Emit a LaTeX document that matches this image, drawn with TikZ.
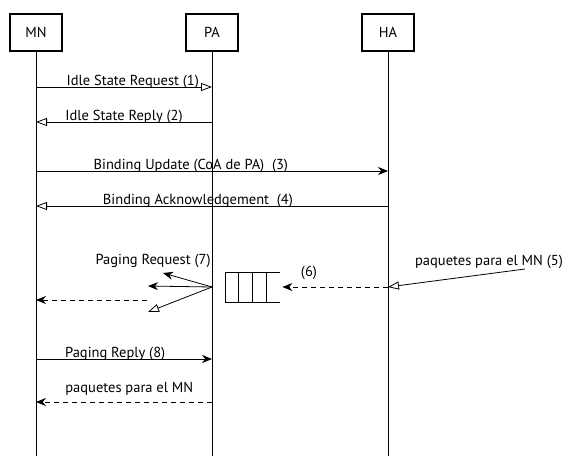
\documentclass[tikz,border=0pt]{standalone}
\usepackage{fontspec}
\setmainfont{PT Sans}
\usetikzlibrary{arrows.meta}

\begin{document}
\begin{tikzpicture}[x=1pt,y=-1pt,line width=0.8pt,font=\fontsize{14.5}{17}\selectfont]
  \tikzstyle{entity}=[draw,line width=1.1pt,minimum width=52pt,minimum height=37pt,inner sep=0pt]
  \tikzstyle{msg}=[-{Stealth[length=10pt,width=8pt]}]
  \tikzstyle{openmsg}=[-{Triangle[open,length=11pt,width=8pt]}]
  \tikzstyle{fwdmsg}=[msg,dash pattern=on 5pt off 4pt]
  \tikzstyle{lbl}=[anchor=base,inner sep=0pt,yshift=2pt]
  \useasboundingbox (0,0) rectangle (570,456);
  % entities and lifelines
  \foreach \name/\x in {MN/36,PA/212,HA/388}{
    \node[entity] (\name) at (\x,32.5) {\name};
    \coordinate (\name-end) at (\x,456);
    \draw (\name) -- (\name-end);
  }
  \foreach \name/\x in {MN/36,PA/212,HA/388}
    \foreach \i/\y in {1/87,2/122,3/171,4/206,6/287,7/300,8/359,9/402}
      \coordinate (\name-\i) at (\x,\y);
  % registration
  \draw[openmsg] (MN-1) -- node[lbl,pos=0.55] {Idle State Request (1)} (PA-1);
  \draw[openmsg] (PA-2) -- node[lbl,pos=0.5] {Idle State Reply (2)} (MN-2);
  \draw[msg] (MN-3) -- node[lbl,pos=0.44] {Binding Update (CoA de PA)\ \ (3)} (HA-3);
  \draw[openmsg] (HA-4) -- node[lbl,pos=0.54] {Binding Acknowledgement\ \ (4)} (MN-4);
  % incoming packets
  \node (pkt) at (489,262) {paquetes para el MN (5)};
  \coordinate (src) at (525,269);
  \draw[openmsg] (src) -- (HA-6);
  \node[minimum width=54pt,minimum height=29pt,inner sep=0pt] (queue) at (253,287) {};
  \draw (queue.north east) -- (queue.north west) -- (queue.south west) -- (queue.south east);
  \foreach \dx in {13,27,41}
    \draw ([xshift=\dx pt]queue.north west) -- ([xshift=\dx pt]queue.south west);
  \draw[fwdmsg] (HA-6) -- ([xshift=2pt]queue.east);
  \node (buf) at (309,273) {(6)};
  % paging
  \node[anchor=base east,inner sep=0pt] (req) at (211,264) {Paging Request (7)};
  \coordinate (t1) at (163,273);
  \coordinate (t2) at (148,286);
  \coordinate (t3) at (148,312);
  \coordinate (fwd) at (147,300);
  \draw[msg] (PA-6) -- (t1);
  \draw[msg] (PA-6) -- (t2);
  \draw[openmsg] (PA-6) -- (t3);
  \draw[fwdmsg] (fwd) -- (MN-7);
  \draw[msg] (MN-8) -- node[lbl,pos=0.45] {Paging Reply (8)} (PA-8);
  \draw[fwdmsg] (PA-9) -- node[lbl,pos=0.47,yshift=8pt] {paquetes para el MN} (MN-9);
\end{tikzpicture}
\end{document}
